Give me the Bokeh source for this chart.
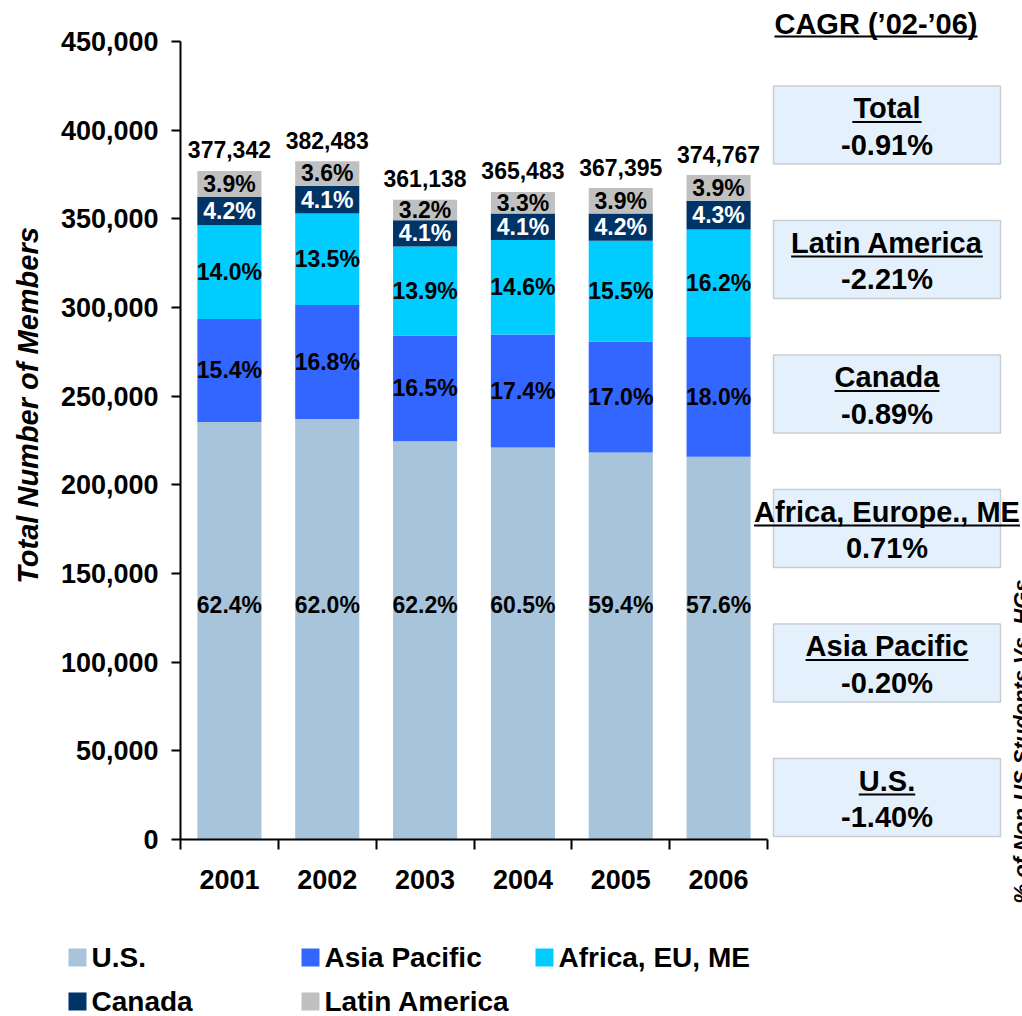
import math
from bokeh.plotting import figure
from bokeh.models import Range1d, LinearAxis, FixedTicker, NumeralTickFormatter, ColumnDataSource
from bokeh.core.properties import value
from bokeh.embed import file_html
from bokeh.resources import INLINE

# ---------------- data ----------------
years = ["2001", "2002", "2003", "2004", "2005", "2006"]
totals = [377342, 382483, 361138, 365483, 367395, 374767]
regions = ["U.S.", "Asia Pacific", "Africa, EU, ME", "Canada", "Latin America"]
pct_us = [62.4, 62.0, 62.2, 60.5, 59.4, 57.6]
pct_ap = [15.4, 16.8, 16.5, 17.4, 17.0, 18.0]
pct_af = [14.0, 13.5, 13.9, 14.6, 15.5, 16.2]
pct_ca = [4.2, 4.1, 4.1, 4.1, 4.2, 4.3]
pct_la = [3.9, 3.6, 3.2, 3.3, 3.9, 3.9]
region_colors = ["#A8C4DA", "#3366FF", "#00CCFF", "#003366", "#C0C0C0"]
label_colors = ["black", "black", "black", "white", "black"]
y_ticks = [0, 50000, 100000, 150000, 200000, 250000, 300000, 350000, 400000, 450000]
y_title = "Total Number of Members"
cagr_title = "CAGR (\u201902-\u201906)"
cagr_names = ["Total", "Latin America", "Canada", "Africa, Europe., ME", "Asia Pacific", "U.S."]
cagr_values = ["-0.91%", "-2.21%", "-0.89%", "0.71%", "-0.20%", "-1.40%"]
side_title = "% of Non-US Students Vs. HGs"

# ---------------- layout ----------------
W, H = 1022, 1016
OFF = 0
AX_LEFT, AX_RIGHT = 180, 767          # page px of x-axis extent
Y0_PAGE, YTOP_PAGE, YTOP_VAL = 839, 41, 450000
BAR_W = 0.655
US_LABEL_Y = 132500

px_per_cat = (AX_RIGHT - AX_LEFT) / len(years)
x_start = (OFF - AX_LEFT) / px_per_cat - 0.5
x_end = (OFF + W - AX_LEFT) / px_per_cat - 0.5
vpp = YTOP_VAL / (Y0_PAGE - YTOP_PAGE)
y_end = (Y0_PAGE - OFF) * vpp
y_start = -(OFF + H - Y0_PAGE) * vpp

FONT = value("Liberation Sans")

# Arial/Liberation Sans Bold advance widths (per em) for underline lengths
CW = {' ': .278, '(': .333, ')': .333, ',': .278, '-': .333, '.': .278, '%': .889,
      '\u2019': .278, 'A': .722, 'C': .722, 'E': .667, 'G': .778, 'L': .611, 'M': .833,
      'P': .667, 'R': .722, 'S': .667, 'T': .611, 'U': .722, 'a': .556, 'c': .556,
      'd': .611, 'e': .556, 'f': .333, 'i': .278, 'l': .278, 'm': .889, 'n': .611,
      'o': .611, 'p': .611, 'r': .389, 's': .556, 't': .333, 'u': .611}


def text_w(s, size):
    return sum(CW.get(ch, .556) for ch in s) * size


p = figure(width=W, height=H, x_range=Range1d(x_start, x_end), y_range=Range1d(y_start, y_end),
           output_backend="svg", toolbar_location=None, x_axis_location=None, y_axis_location=None,
           min_border=0, outline_line_color=None)
p.grid.visible = False
p.extra_x_ranges = {"px": Range1d(OFF, OFF + W)}
p.extra_y_ranges = {"px": Range1d(OFF + H, OFF)}

# ---------------- stacked bars ----------------
xs = list(range(len(years)))
pcts = [pct_us, pct_ap, pct_af, pct_ca, pct_la]
bottom = [0.0] * len(years)
for k, (name, pc) in enumerate(zip(regions, pcts)):
    seg = [t * v / 100.0 for t, v in zip(totals, pc)]
    top = [b + s for b, s in zip(bottom, seg)]
    src = ColumnDataSource(dict(x=xs, bottom=bottom, top=top))
    p.vbar(x="x", width=BAR_W, bottom="bottom", top="top", source=src,
           fill_color=region_colors[k], line_color=None)
    if k == 0:
        ly = [US_LABEL_Y] * len(years)
    else:
        ly = [(b + t) / 2 for b, t in zip(bottom, top)]
    lsrc = ColumnDataSource(dict(x=xs, y=ly, t=["%.1f%%" % v for v in pc]))
    p.text(x="x", y="y", text="t", source=lsrc, text_align="center", text_baseline="middle",
           text_font=FONT, text_font_style="bold", text_font_size="23px",
           text_color=label_colors[k])
    bottom = top

# totals above bars
tsrc = ColumnDataSource(dict(x=xs, y=totals, t=["{:,}".format(v) for v in totals]))
p.text(x="x", y="y", text="t", source=tsrc, text_align="center", text_baseline="bottom",
       y_offset=-12, text_font=FONT, text_font_style="bold", text_font_size="23px", text_color="black")

# ---------------- axes ----------------
yaxis = LinearAxis(fixed_location=-0.5, bounds=(y_ticks[0], y_ticks[-1]),
                   ticker=FixedTicker(ticks=y_ticks), formatter=NumeralTickFormatter(format="0,0"))
yaxis.axis_line_width = 2
yaxis.axis_line_color = "black"
yaxis.major_tick_line_width = 2
yaxis.major_tick_line_color = "black"
yaxis.major_tick_out = 9
yaxis.major_tick_in = 0
yaxis.minor_tick_out = 0
yaxis.minor_tick_in = 0
yaxis.major_label_standoff = 13
yaxis.major_label_text_font = "Liberation Sans"
yaxis.major_label_text_font_style = "bold"
yaxis.major_label_text_font_size = "27px"
yaxis.major_label_text_color = "black"
p.add_layout(yaxis, "left")

xaxis = LinearAxis(fixed_location=0, bounds=(-0.5, len(years) - 0.5),
                   ticker=FixedTicker(ticks=xs, minor_ticks=[i - 0.5 for i in range(len(years) + 1)]),
                   major_label_overrides={i: y for i, y in enumerate(years)})
xaxis.axis_line_width = 2
xaxis.axis_line_color = "black"
xaxis.major_tick_out = 0
xaxis.major_tick_in = 0
xaxis.minor_tick_out = 10
xaxis.minor_tick_in = 0
xaxis.minor_tick_line_width = 2
xaxis.minor_tick_line_color = "black"
xaxis.major_label_standoff = 20
xaxis.major_label_text_font = "Liberation Sans"
xaxis.major_label_text_font_style = "bold"
xaxis.major_label_text_font_size = "27px"
xaxis.major_label_text_color = "black"
p.add_layout(xaxis, "below")

# y title
p.text(x=[27], y=[405], text=[y_title], angle=math.pi / 2, x_range_name="px", y_range_name="px",
       text_align="center", text_baseline="middle", text_font=FONT, text_font_style="bold italic",
       text_font_size="29px", text_color="black")

# ---------------- CAGR panel ----------------
CX_TITLE, Y_TITLE = 875.5, 23
p.text(x=[CX_TITLE], y=[Y_TITLE], text=[cagr_title], x_range_name="px", y_range_name="px",
       text_align="center", text_baseline="middle", text_font=FONT, text_font_style="bold",
       text_font_size="29px", text_color="black")
tw = text_w(cagr_title, 29)
p.segment(x0=[CX_TITLE - tw / 2], x1=[CX_TITLE + tw / 2], y0=[Y_TITLE + 13], y1=[Y_TITLE + 13],
          x_range_name="px", y_range_name="px", line_color="black", line_width=2)

BOX_L, BOX_R, BOX_H = 773, 1000, 78
box_tops = [85.5 + 134.5 * i for i in range(len(cagr_names))]
bcx = (BOX_L + BOX_R) / 2
p.quad(left=BOX_L, right=BOX_R, top=box_tops, bottom=[t + BOX_H for t in box_tops],
       x_range_name="px", y_range_name="px", fill_color="#E4F1FC", line_color="#C8CDD2", line_width=1.5)
p.text(x=[bcx] * len(cagr_names), y=[t + 22 for t in box_tops], text=cagr_names,
       x_range_name="px", y_range_name="px", text_align="center", text_baseline="middle",
       text_font=FONT, text_font_style="bold", text_font_size="29px", text_color="black")
p.text(x=[bcx] * len(cagr_values), y=[t + 58.5 for t in box_tops], text=cagr_values,
       x_range_name="px", y_range_name="px", text_align="center", text_baseline="middle",
       text_font=FONT, text_font_style="bold", text_font_size="29px", text_color="black")
uw = [text_w(n, 29) for n in cagr_names]
p.segment(x0=[bcx - w / 2 for w in uw], x1=[bcx + w / 2 for w in uw],
          y0=[t + 36 for t in box_tops], y1=[t + 36 for t in box_tops],
          x_range_name="px", y_range_name="px", line_color="black", line_width=2)

# partially visible side title (cut by the right edge, as in the original)
p.text(x=[1008], y=[903], text=[side_title], angle=math.pi / 2, x_range_name="px", y_range_name="px",
       text_align="left", text_baseline="top", text_font=FONT, text_font_style="bold italic",
       text_font_size="22px", text_color="black")

# ---------------- legend ----------------
LEG_COLS = [68, 301, 535]
LEG_ROWS = [957, 1001]
SQ = 18
lx, ly = [], []
for i, name in enumerate(regions):
    r, c = divmod(i, 3)
    lx.append(LEG_COLS[c])
    ly.append(LEG_ROWS[r])
p.quad(left=lx, right=[x + SQ for x in lx], top=[y - SQ / 2 for y in ly], bottom=[y + SQ / 2 for y in ly],
       x_range_name="px", y_range_name="px", fill_color=region_colors, line_color=None)
p.text(x=[x + SQ + 5 for x in lx], y=ly, text=regions, x_range_name="px", y_range_name="px",
       text_align="left", text_baseline="middle", text_font=FONT, text_font_style="bold",
       text_font_size="28px", text_color="black")

open("out.html", "w").write(file_html(p, INLINE))
